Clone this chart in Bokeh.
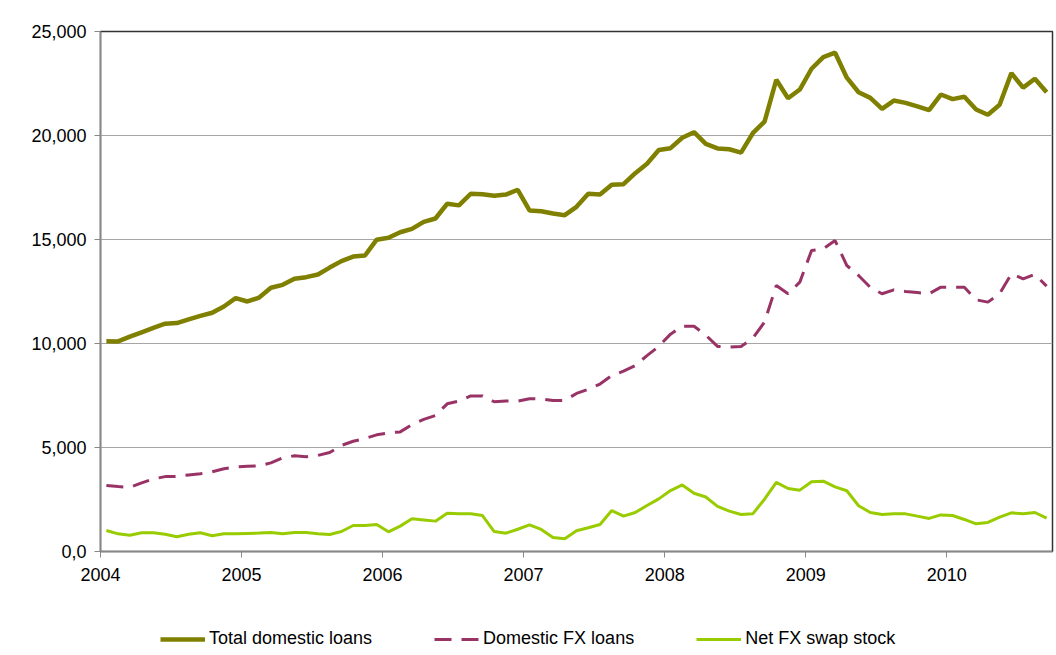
import numpy as np
from bokeh.plotting import figure
from bokeh.layouts import column
from bokeh.models import ColumnDataSource, FixedTicker, Legend, LegendItem, Range1d
from bokeh.embed import file_html
from bokeh.resources import INLINE

year_labels = ["2004", "2005", "2006", "2007", "2008", "2009", "2010"]
series_names = ["Total domestic loans", "Domestic FX loans", "Net FX swap stock"]

total_loans = [
    10110, 10100, 10330, 10540, 10750, 10950, 10980, 11160, 11330, 11480, 11780, 12180,
    12020, 12210, 12680, 12820, 13110, 13190, 13320, 13650, 13960, 14180, 14230, 14990,
    15080, 15350, 15510, 15850, 16010, 16720, 16640, 17200, 17180, 17100, 17160, 17390,
    16395, 16360, 16250, 16170, 16570, 17200, 17160, 17630, 17660, 18190, 18640, 19300,
    19390, 19890, 20160, 19600, 19380, 19340, 19180, 20110, 20670, 22680, 21790, 22210,
    23210, 23770, 23980, 22780, 22080, 21810, 21280, 21680, 21570, 21400, 21220, 21970,
    21750, 21860, 21250, 21000, 21480, 23000, 22300, 22730, 22080,
]
fx_loans = [
    3170, 3120, 3080, 3300, 3490, 3600, 3610, 3680, 3740, 3830, 3980, 4070,
    4100, 4120, 4260, 4500, 4600, 4560, 4620, 4760, 5100, 5300, 5430, 5610,
    5700, 5750, 6100, 6350, 6540, 7100, 7230, 7480, 7480, 7200, 7230, 7230,
    7340, 7340, 7260, 7260, 7600, 7800, 8050, 8460, 8670, 8940, 9420, 9860,
    10450, 10830, 10830, 10400, 9860, 9830, 9860, 10250, 11030, 12790, 12390, 12950,
    14470, 14550, 14950, 13750, 13270, 12700, 12390, 12580, 12500, 12450, 12390, 12710,
    12710, 12700, 12100, 11990, 12390, 13350, 13110, 13320, 12760,
]
swap_stock = [
    1010, 850, 785, 900, 900, 833, 705, 833, 900, 755, 850, 850,
    870, 885, 915, 850, 915, 915, 850, 820, 960, 1250, 1250, 1300,
    945, 1220, 1570, 1520, 1460, 1840, 1810, 1810, 1730, 960, 880, 1070,
    1280, 1060, 675, 610, 995, 1140, 1300, 1970, 1700, 1875, 2210, 2530,
    2930, 3200, 2800, 2620, 2170, 1940, 1780, 1810, 2515, 3320, 3030, 2950,
    3350, 3380, 3110, 2920, 2200, 1875, 1780, 1810, 1810, 1700, 1590, 1760,
    1730, 1540, 1330, 1395, 1650, 1860, 1810, 1875, 1600,
]

n = len(total_loans)
month_pos = np.arange(n) + 0.5  # mid-month positions, months since Jan 2004

src = ColumnDataSource(dict(x=month_pos, total=total_loans, fx=fx_loans, swap=swap_stock))
cols = ["total", "fx", "swap"]

FONT = "Liberation Sans"
styles = [
    dict(line_color="#808000", line_width=4.5),
    dict(line_color="#993366", line_width=3, line_dash="17 10"),
    dict(line_color="#99CC00", line_width=3),
]

p = figure(width=1056, height=600, output_backend="svg", toolbar_location=None,
           x_range=Range1d(0, 81), y_range=Range1d(0, 25000),
           min_border_left=100, min_border_right=4, min_border_top=31, min_border_bottom=49)
p.background_fill_color = "white"
p.border_fill_color = "white"
p.outline_line_color = "#333333"
p.outline_line_width = 1.5

for c, st in zip(cols, styles):
    p.line("x", c, source=src, **st)

# axes
p.xaxis.ticker = FixedTicker(ticks=[12 * i for i in range(len(year_labels))])
p.xaxis.major_label_overrides = {12 * i: lab for i, lab in enumerate(year_labels)}
p.yaxis.ticker = FixedTicker(ticks=[0, 5000, 10000, 15000, 20000, 25000])
p.yaxis.major_label_overrides = {0: "0,0", 5000: "5,000", 10000: "10,000",
                                 15000: "15,000", 20000: "20,000", 25000: "25,000"}
for ax in (p.xaxis[0], p.yaxis[0]):
    ax.axis_line_color = "#888888"
    ax.axis_line_width = 1.5
    ax.major_tick_line_color = "#888888"
    ax.major_tick_in = 0
    ax.major_tick_out = 6
    ax.minor_tick_line_color = None
    ax.major_label_text_font = FONT
    ax.major_label_text_font_size = "18px"
    ax.major_label_text_color = "#000000"
p.yaxis.major_label_standoff = 8
p.xaxis.major_label_standoff = 10

p.xgrid.grid_line_color = None
p.ygrid.grid_line_color = "#a6a6a6"
p.ygrid.grid_line_width = 1.2

# legend strip below the chart (its lines use the same data, kept out of view)
lf = figure(width=1056, height=55, output_backend="svg", toolbar_location=None,
            x_range=Range1d(0, 1), y_range=Range1d(-2, -1),
            min_border=0, min_border_left=0, min_border_right=0,
            min_border_top=0, min_border_bottom=0)
lf.axis.visible = False
lf.grid.visible = False
lf.outline_line_color = None
lf.border_fill_color = "white"
lf.background_fill_color = "white"
lrs = [lf.line("x", c, source=src, **st) for c, st in zip(cols, styles)]

legend = Legend(items=[LegendItem(label=nm, renderers=[r]) for nm, r in zip(series_names, lrs)],
                orientation="horizontal", location=(60, 6),
                label_text_font=FONT, label_text_font_size="18px", label_text_color="#000000",
                glyph_width=45, glyph_height=18, label_standoff=4, spacing=62,
                border_line_color=None, background_fill_alpha=0, margin=0, padding=4)
lf.add_layout(legend, "center")

layout = column(p, lf, spacing=0)
open("out.html", "w").write(file_html(layout, INLINE))
